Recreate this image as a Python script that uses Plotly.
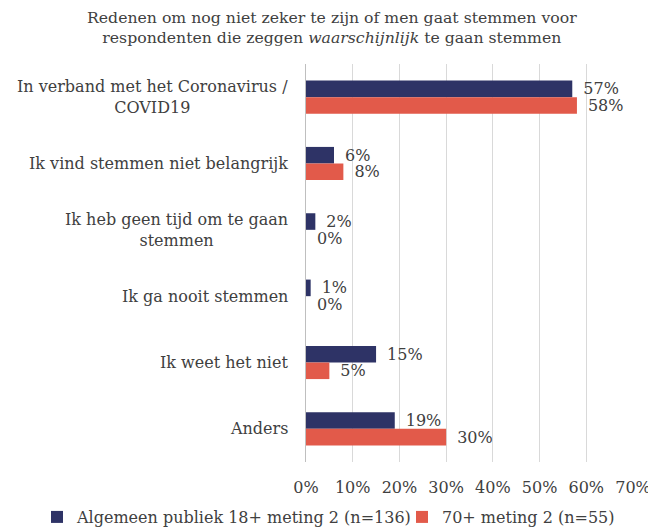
import plotly.graph_objects as go

categories = [
    "In verband met het Coronavirus /<br>COVID19",
    "Ik vind stemmen niet belangrijk",
    "Ik heb geen tijd om te gaan<br>stemmen",
    "Ik ga nooit stemmen",
    "Ik weet het niet",
    "Anders",
]
algemeen = [0.57, 0.06, 0.02, 0.01, 0.15, 0.19]
seventy_plus = [0.58, 0.08, 0.00, 0.00, 0.05, 0.30]
series_names = ["Algemeen publiek 18+ meting 2 (n=136)", "70+ meting 2 (n=55)"]
tick_vals = [0, 0.1, 0.2, 0.3, 0.4, 0.5, 0.6, 0.7]

FONT = "DejaVu Serif"
TXT = "#404040"
NAVY = "#2E3366"
CORAL = "#E25A4A"

# the page body has an 8px margin, so the figure is drawn 8px smaller
W, H = 648, 521
ML, MR, MT, MB = 298, 23, 56, 67

fig = go.Figure()
series = [(series_names[0], algemeen, NAVY, "legend"),
          (series_names[1], seventy_plus, CORAL, "legend2")]
for name, vals, col, leg in series:
    fig.add_trace(go.Bar(
        y=categories, x=vals, name=name, orientation="h", legend=leg,
        marker=dict(color=col, line=dict(width=0)),
        text=[f"\u2002{v:.0%}" for v in vals], textposition="outside",
        constraintext="none",
        textfont=dict(family=FONT, size=16, color=TXT),
        cliponaxis=False,
    ))

# category labels as annotations so multi-line text stays centred
for c in categories:
    fig.add_annotation(
        x=0, xref="paper", y=c, yref="y", text=c, showarrow=False,
        xanchor="right", xshift=-16, align="center",
        font=dict(family=FONT, size=16, color=TXT),
    )

# title, centred on the whole figure
fig.add_annotation(
    x=(W / 2 - ML) / (W - ML - MR), xref="paper", y=1.038, yref="paper",
    xanchor="center", yanchor="bottom",
    text="Redenen om nog niet zeker te zijn of men gaat stemmen voor<br>"
         "respondenten die zeggen <i>waarschijnlijk</i> te gaan stemmen",
    showarrow=False, align="center",
    font=dict(family=FONT, size=15.7, color=TXT),
)

leg_style = dict(
    visible=True, orientation="h", xref="container", yref="container",
    y=0.023, yanchor="middle", xanchor="left",
    font=dict(family=FONT, size=16, color=TXT),
    itemwidth=30, bgcolor="rgba(0,0,0,0)",
)
fig.update_layout(
    width=W, height=H, showlegend=True,
    margin=dict(l=ML, r=MR, t=MT, b=MB, autoexpand=False),
    paper_bgcolor="white", plot_bgcolor="white",
    barmode="group", bargap=0.5, bargroupgap=0.0,
    legend=dict(leg_style, x=29 / W),
    legend2=dict(leg_style, x=394 / W),
    font=dict(family=FONT, color=TXT),
)
fig.update_xaxes(
    range=[0, 0.7], tickvals=tick_vals, tickformat=".0%",
    showgrid=True, gridcolor="#D9D9D9", gridwidth=1,
    zeroline=False, showline=False,
    ticks="outside", ticklen=11, tickcolor="rgba(0,0,0,0)",
    tickfont=dict(family=FONT, size=16, color=TXT),
)
fig.update_yaxes(
    autorange="reversed", showticklabels=False, showgrid=False,
    showline=True, linecolor="#BFBFBF", linewidth=1,
)

fig.write_html("out.html")
